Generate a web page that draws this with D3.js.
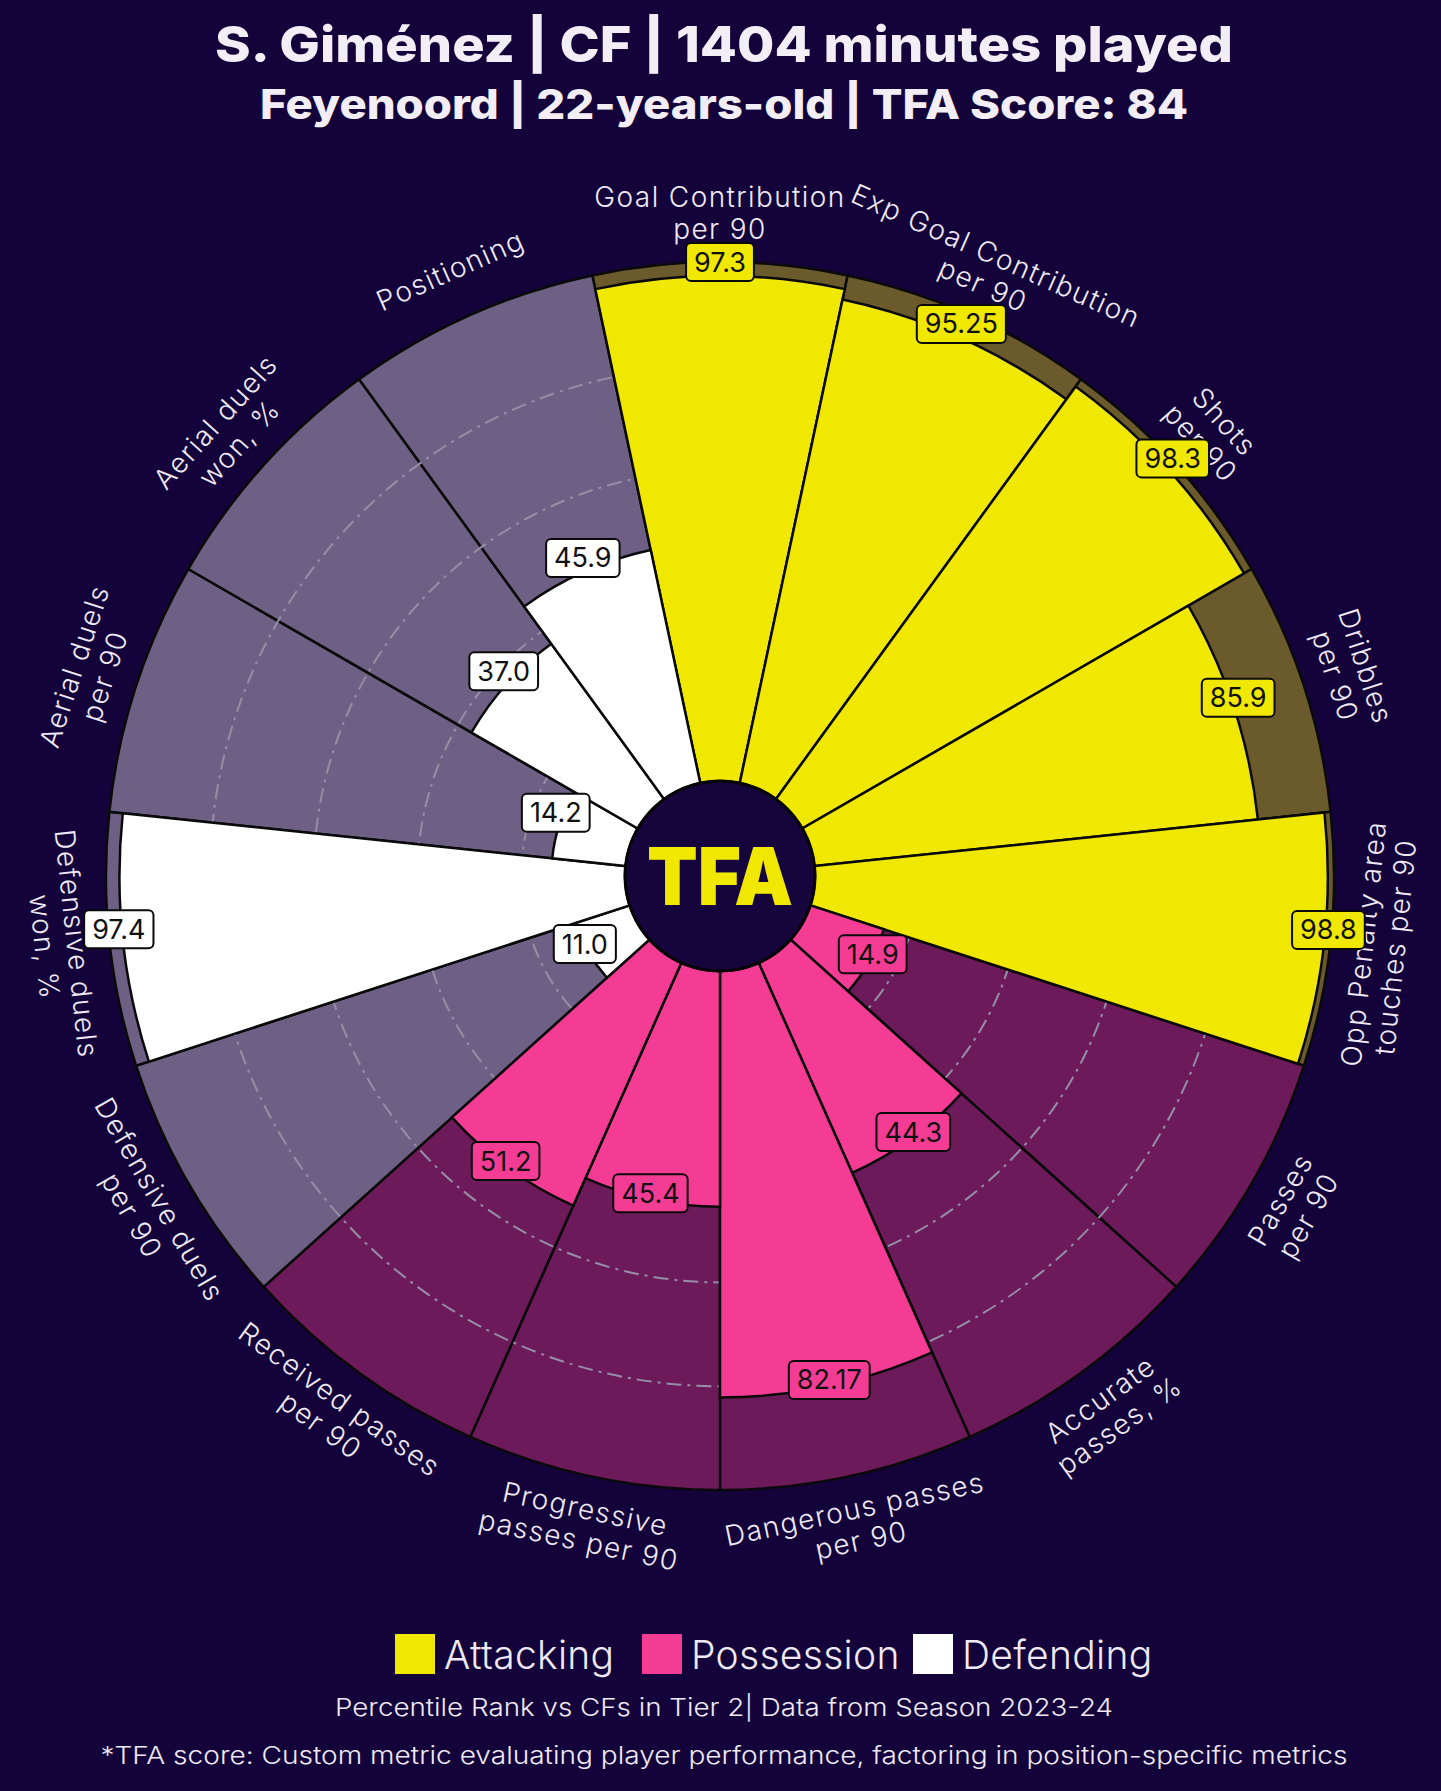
<!DOCTYPE html>
<html><head><meta charset="utf-8">
<script src="https://cdn.jsdelivr.net/npm/d3@7"></script>
<style>html,body{margin:0;padding:0;background:#14033a;} svg{display:block}</style>
</head><body>
<svg id="chart" width="1441" height="1791"></svg>
<script>
// ---------- data ----------
const categories = [
  ["Goal Contribution", "per 90"],
  ["Exp Goal Contribution", "per 90"],
  ["Shots", "per 90"],
  ["Dribbles", "per 90"],
  ["Opp Penalty area", "touches per 90"],
  ["Passes", "per 90"],
  ["Accurate", "passes, %"],
  ["Dangerous passes", "per 90"],
  ["Progressive", "passes per 90"],
  ["Received passes", "per 90"],
  ["Defensive duels", "per 90"],
  ["Defensive duels", "won, %"],
  ["Aerial duels", "per 90"],
  ["Aerial duels", "won, %"],
  ["Positioning"]
];
const values = [97.3, 95.25, 98.3, 85.9, 98.8, 14.9, 44.3, 82.17, 45.4, 51.2, 11.0, 97.4, 14.2, 37.0, 45.9];
const valueLabels = ["97.3", "95.25", "98.3", "85.9", "98.8", "14.9", "44.3", "82.17", "45.4", "51.2", "11.0", "97.4", "14.2", "37.0", "45.9"];
const groups = ["Attacking", "Attacking", "Attacking", "Attacking", "Attacking",
                "Possession", "Possession", "Possession", "Possession", "Possession",
                "Defending", "Defending", "Defending", "Defending", "Defending"];
const groupNames = ["Attacking", "Possession", "Defending"];
const gridTicks = [20, 40, 60, 80];
const titleLine1 = "S. Giménez | CF | 1404 minutes played";
const titleLine2 = "Feyenoord | 22-years-old | TFA Score: 84";
const footer1 = "Percentile Rank vs CFs in Tier 2| Data from Season 2023-24";
const footer2 = "*TFA score: Custom metric evaluating player performance, factoring in position-specific metrics";

// ---------- styles ----------
const BG = "#14033a";
const barColor = d3.scaleOrdinal().domain(groupNames).range(["#f0e800", "#f53c95", "#ffffff"]);
const bgColor = d3.scaleOrdinal().domain(groupNames).range(["#6b5a2c", "#6d1a5b", "#6e6085"]);
const TEXT = "#efe9f6";
const FONT = "Inter, 'Noto Sans', sans-serif";
const EDGE = "#0a0a0a";

const svg = d3.select("#chart");
svg.append("rect").attr("width", 1441).attr("height", 1791).attr("fill", BG);

const cx = 720, cy = 876;
const r = d3.scaleLinear().domain([0, 100]).range([95, 614]);
const step = 2 * Math.PI / categories.length;
const ang = d3.scaleBand().domain(d3.range(categories.length))
  .range([-step / 2, 2 * Math.PI - step / 2]).padding(0);

const g = svg.append("g").attr("transform", `translate(${cx},${cy})`);
const idx = d3.range(categories.length);

// background slices
const arcBg = d3.arc()
  .innerRadius(r(0)).outerRadius(r(100))
  .startAngle(i => ang(i)).endAngle(i => ang(i) + ang.bandwidth());
g.append("g").selectAll("path").data(idx).join("path")
  .attr("d", arcBg)
  .attr("fill", i => bgColor(groups[i]))
  .attr("stroke", EDGE).attr("stroke-width", 2.5);

// grid circles
g.append("g").selectAll("circle").data(gridTicks).join("circle")
  .attr("r", d => r(d)).attr("fill", "none")
  .attr("stroke", "#958ea6").attr("stroke-width", 2)
  .attr("stroke-dasharray", "15,6,3,6");

// value bars
const arcVal = d3.arc()
  .innerRadius(r(0)).outerRadius(i => r(values[i]))
  .startAngle(i => ang(i)).endAngle(i => ang(i) + ang.bandwidth());
g.append("g").selectAll("path").data(idx).join("path")
  .attr("d", arcVal)
  .attr("fill", i => barColor(groups[i]))
  .attr("stroke", EDGE).attr("stroke-width", 2.5);

// center circle with logo text
g.append("circle").attr("r", r(0)).attr("fill", "#16053c")
  .attr("stroke", "#050505").attr("stroke-width", 3);
g.append("text").text("TFA")
  .attr("x", 0).attr("y", 29)
  .attr("text-anchor", "middle")
  .attr("font-family", FONT).attr("font-weight", 900)
  .attr("font-size", 80).attr("fill", "#f0e800")
  .attr("textLength", 146).attr("lengthAdjust", "spacingAndGlyphs");

// category labels
const labR = 663;
const lab = g.append("g").selectAll("g").data(idx).join("g")
  .attr("transform", i => {
    const a = ang(i) + ang.bandwidth() / 2;
    const deg = a * 180 / Math.PI;
    const x = labR * Math.sin(a), y = -labR * Math.cos(a);
    const rot = (deg > 90 && deg < 270) ? deg - 180 : deg;
    return `translate(${x},${y}) rotate(${rot})`;
  });
lab.each(function(i) {
  const lines = categories[i];
  const lh = 32;
  const sel = d3.select(this);
  lines.forEach((t, k) => {
    sel.append("text").text(t)
      .attr("x", 0).attr("y", (k - (lines.length - 1) / 2) * lh)
      .attr("text-anchor", "middle").attr("dominant-baseline", "central")
      .attr("font-family", FONT).attr("font-size", 28).attr("font-weight", 300)
      .attr("letter-spacing", 1.4)
      .attr("fill", TEXT);
  });
});

// value labels
const vl = g.append("g").selectAll("g").data(idx).join("g")
  .attr("transform", i => {
    const a = ang(i) + ang.bandwidth() / 2;
    const rr = r(values[i]) + 4;
    return `translate(${rr * Math.sin(a)},${-rr * Math.cos(a) - 10})`;
  });
vl.each(function(i) {
  const sel = d3.select(this);
  const t = sel.append("text").text(valueLabels[i])
    .attr("x", 0).attr("y", 0)
    .attr("text-anchor", "middle").attr("dominant-baseline", "central")
    .attr("font-family", FONT).attr("font-size", 27).attr("font-weight", 400)
    .attr("fill", "#111");
  const w = t.node().getComputedTextLength();
  sel.insert("rect", "text")
    .attr("x", -w / 2 - 8).attr("y", -19).attr("width", w + 16).attr("height", 38)
    .attr("rx", 5).attr("fill", barColor(groups[i]))
    .attr("stroke", EDGE).attr("stroke-width", 2);
});

// titles
svg.append("text").text(titleLine1)
  .attr("x", 724).attr("y", 62).attr("text-anchor", "middle")
  .attr("font-family", FONT).attr("font-weight", 800).attr("font-size", 50)
  .attr("fill", "#f3eef6")
  .attr("textLength", 1018).attr("lengthAdjust", "spacingAndGlyphs");
svg.append("text").text(titleLine2)
  .attr("x", 724).attr("y", 119).attr("text-anchor", "middle")
  .attr("font-family", FONT).attr("font-weight", 800).attr("font-size", 41)
  .attr("fill", "#f3eef6")
  .attr("textLength", 928).attr("lengthAdjust", "spacingAndGlyphs");

// legend
const legX = [395, 642, 913];
const leg = svg.append("g").selectAll("g").data(groupNames).join("g")
  .attr("transform", (d, k) => `translate(${legX[k]},1634)`);
leg.append("rect").attr("width", 40).attr("height", 40).attr("fill", d => barColor(d));
leg.append("text").text(d => d).attr("x", 49).attr("y", 35)
  .attr("font-family", FONT).attr("font-size", 39).attr("font-weight", 300)
  .attr("letter-spacing", 0.3).attr("fill", TEXT);

// footers
svg.append("text").text(footer1)
  .attr("x", 724).attr("y", 1716).attr("text-anchor", "middle")
  .attr("font-family", FONT).attr("font-size", 24).attr("font-weight", 300).attr("fill", TEXT)
  .attr("textLength", 778).attr("lengthAdjust", "spacingAndGlyphs");
svg.append("text").text(footer2)
  .attr("x", 724).attr("y", 1764).attr("text-anchor", "middle")
  .attr("font-family", FONT).attr("font-size", 24).attr("font-weight", 300).attr("fill", TEXT)
  .attr("textLength", 1247).attr("lengthAdjust", "spacingAndGlyphs");
</script>
</body></html>
